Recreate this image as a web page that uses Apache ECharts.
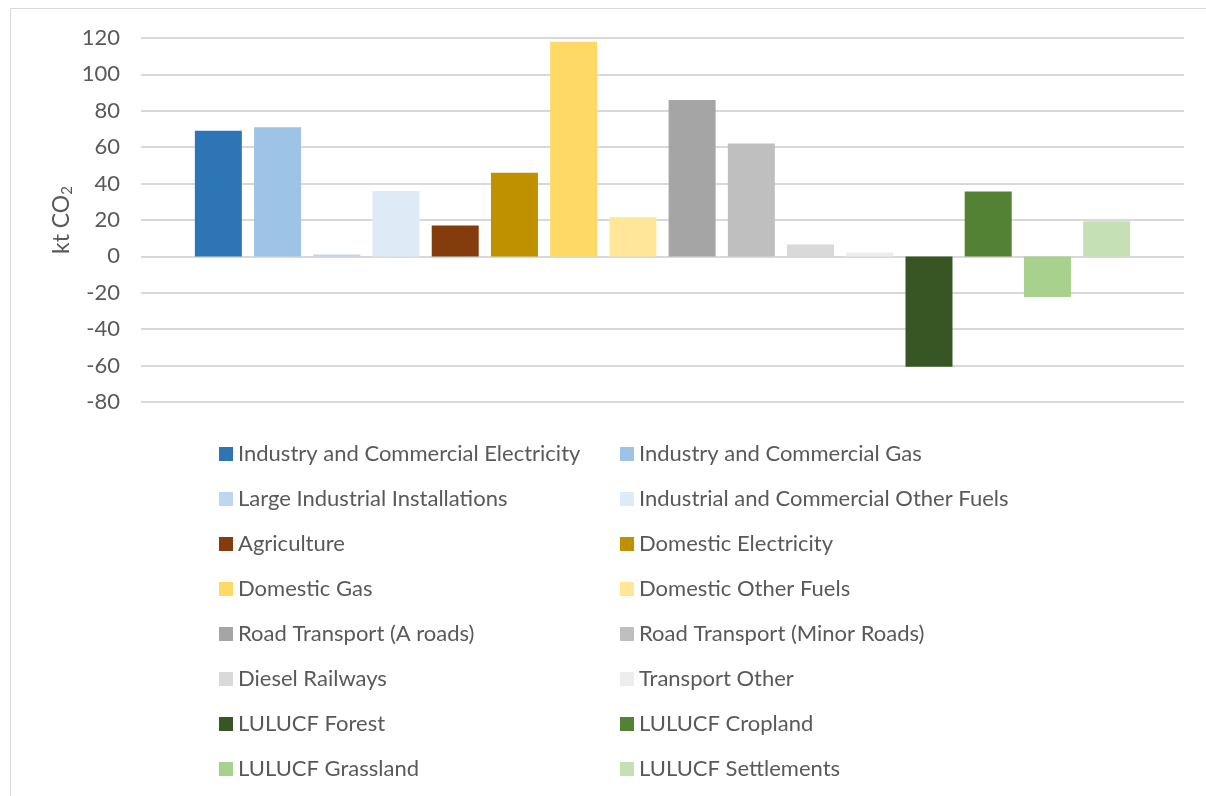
<!DOCTYPE html>
<html>
<head>
<meta charset="utf-8">
<script src="https://cdn.jsdelivr.net/npm/echarts@6/dist/echarts.min.js"></script>
<style>
  html, body { margin: 0; padding: 0; background: #fff; }
  #main { width: 1206px; height: 796px; }
</style>
</head>
<body>
<div id="main"></div>
<script>
// sectors (one bar each, in legend order)
var sectors = [
    'Industry and Commercial Electricity', 'Industry and Commercial Gas',
    'Large Industrial Installations', 'Industrial and Commercial Other Fuels',
    'Agriculture', 'Domestic Electricity',
    'Domestic Gas', 'Domestic Other Fuels',
    'Road Transport (A roads)', 'Road Transport (Minor Roads)',
    'Diesel Railways', 'Transport Other',
    'LULUCF Forest', 'LULUCF Cropland',
    'LULUCF Grassland', 'LULUCF Settlements'
];
// kt CO2
var values = [69, 71, 1, 36, 17, 46, 118, 21.5, 86, 62, 6.5, 2.2, -60.7, 35.7, -22.3, 19.3];
var colors = [
    '#2e75b6', '#9dc3e6', '#bdd7ee', '#deebf7',
    '#843c0c', '#bf9000', '#ffd966', '#ffe699',
    '#a5a5a5', '#bfbfbf', '#d9d9d9', '#ededed',
    '#375623', '#548235', '#a9d18e', '#c5e0b4'
];
var yTicks = { min: -80, max: 120, interval: 20 };

var myChart = echarts.init(document.getElementById('main'));

// one series per sector so every bar gets its own legend entry
var series = [];
for (var i = 0; i < sectors.length; i++) {
    series.push({
        name: sectors[i],
        type: 'bar',
        data: [values[i]],
        barWidth: 47,
        barGap: '26%',
        itemStyle: { color: colors[i] }
    });
}

// legend in two columns
var leftNames = [], rightNames = [];
for (var j = 0; j < sectors.length; j++) {
    if (j % 2 == 0) leftNames.push(sectors[j]); else rightNames.push(sectors[j]);
}
var legendBase = {
    orient: 'vertical',
    top: 443,
    padding: 0,
    itemWidth: 14,
    itemHeight: 14,
    itemGap: 23,
    icon: 'rect',
    selectedMode: false,
    textStyle: { fontFamily: 'Lato', fontSize: 22, color: '#595959' }
};

var option = {
    animation: false,
    backgroundColor: '#fff',
    graphic: [{
        type: 'rect',
        shape: { x: 10.5, y: 8.5, width: 1210, height: 800 },
        style: { fill: 'none', stroke: '#d9d9d9', lineWidth: 1 },
        silent: true
    }],
    grid: { left: 141, right: 22, top: 38, bottom: 394 },
    legend: [
        Object.assign({}, legendBase, { left: 219, data: leftNames }),
        Object.assign({}, legendBase, { left: 620, data: rightNames })
    ],
    xAxis: {
        type: 'category',
        data: [''],
        axisLine: { show: false },
        axisTick: { show: false },
        axisLabel: { show: false }
    },
    yAxis: {
        type: 'value',
        min: yTicks.min,
        max: yTicks.max,
        interval: yTicks.interval,
        name: '{a|kt CO}{b|2}',
        nameLocation: 'middle',
        nameGap: 66,
        nameRotate: 90,
        nameMoveOverlap: false,
        nameTextStyle: {
            rich: {
                a: { fontFamily: 'Lato', fontSize: 23, color: '#595959' },
                b: { fontFamily: 'Lato', fontSize: 15, color: '#595959', padding: [12, 0, 0, 0] }
            }
        },
        axisLine: { show: false },
        axisTick: { show: false },
        axisLabel: { fontFamily: 'Lato', fontSize: 22, color: '#595959', margin: 21 },
        splitLine: { lineStyle: { color: '#d9d9d9', width: 2 } }
    },
    series: series
};

myChart.setOption(option);
</script>
</body>
</html>
